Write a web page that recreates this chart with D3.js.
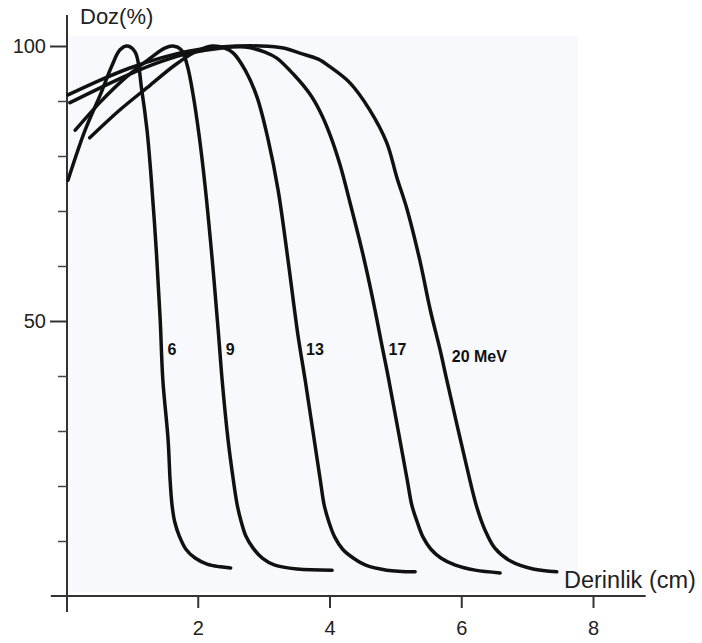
<!DOCTYPE html>
<html>
<head>
<meta charset="utf-8">
<script src="https://cdn.jsdelivr.net/npm/d3@7/dist/d3.min.js"></script>
<style>
body{margin:0;background:#fff;}
text{font-family:"Liberation Sans",Arial,sans-serif;}
</style>
</head>
<body>
<script>
//Curve labels (beam energy)
var energies = ['6', '9', '13', '17', '20 MeV'];
//Depth (cm) and dose (%)
var depth6 = [0.03,0.29,0.52,0.70,0.82,0.93,1.05,1.15,1.23,1.29,1.37,1.43,1.47,1.55,1.58,1.61,1.65,1.72,1.82,1.96,2.14,2.34,2.50];
var dose6  = [75.6,84.7,91.1,96.5,99.3,100,98.9,92.0,84.7,76.5,62.9,50.2,39.3,28.4,21.1,16.5,13.5,10.9,8.5,6.9,5.8,5.3,5.1];
var depth9 = [0.14,0.52,0.90,1.28,1.50,1.62,1.75,1.84,1.93,2.02,2.11,2.22,2.31,2.37,2.46,2.54,2.60,2.66,2.73,2.84,2.98,3.17,3.51,4.04];
var dose9  = [84.7,89.8,94.2,97.8,99.6,100,99.3,96.5,91.1,83.8,74.7,61.1,48.4,39.3,28.4,21.1,16.5,13.5,10.9,8.7,6.9,5.6,4.9,4.7];
var depth13 = [0.36,0.82,1.28,1.65,1.96,2.22,2.41,2.54,2.72,2.90,3.07,3.22,3.37,3.52,3.63,3.86,3.92,3.99,4.08,4.20,4.36,4.55,4.87,5.30];
var dose13  = [83.3,88.4,92.9,96.5,98.9,100,99.6,98.7,95.6,90.7,82.9,73.8,61.1,47.5,39.3,21.1,16.5,13.5,10.7,8.5,6.9,5.6,4.7,4.4];
var depth17 = [0.06,0.52,0.97,1.43,1.88,2.34,2.72,3.02,3.20,3.45,3.70,3.86,4.01,4.16,4.31,4.51,4.66,4.81,4.90,5.18,5.25,5.33,5.42,5.54,5.69,5.91,6.21,6.59];
var dose17  = [89.7,92.4,94.9,97.1,98.7,99.6,99.8,98.9,97.8,94.9,91.3,88.0,83.8,78.4,71.6,62.0,53.8,44.7,39.3,21.1,16.5,13.5,10.7,8.5,6.9,5.6,4.7,4.2];
var depth20 = [0.03,0.52,0.97,1.43,1.88,2.34,2.95,3.32,3.55,3.83,4.01,4.31,4.61,4.87,5.02,5.18,5.37,5.53,5.68,5.78,6.13,6.24,6.36,6.51,6.74,7.09,7.45];
var dose20  = [91.1,93.8,96.0,97.8,99.1,99.8,100,99.6,98.7,97.6,96.2,93.3,88.4,82.4,76.2,70.2,61.1,52.0,44.7,39.3,21.1,16.0,12.0,8.7,6.4,4.9,4.4];
//Axis ticks
var xTicks = [2, 4, 6, 8];
var yMajorTicks = [50, 100];
var yMinorTicks = [10, 20, 30, 40, 60, 70, 80, 90];

function setChart(){
    var width = 702,
        height = 643;
    var svg = d3.select('body')
        .append('svg')
        .attr('width', width)
        .attr('height', height);

    var x = d3.scaleLinear().domain([0, 8]).range([66, 593]);
    var y = d3.scaleLinear().domain([0, 100]).range([596, 46]);

    //faint scanned paper area
    svg.append('rect')
        .attr('x', 68).attr('y', 36)
        .attr('width', 510).attr('height', 556)
        .attr('fill', '#f8f9fc');

    //x axis
    svg.append('line')
        .attr('x1', x(-0.23)).attr('x2', x(8.8))
        .attr('y1', y(0)).attr('y2', y(0))
        .attr('stroke', '#333').attr('stroke-width', 2);
    var xAxis = svg.append('g')
        .attr('transform', 'translate(0,' + y(0) + ')')
        .call(d3.axisBottom(x).tickValues(xTicks).tickSize(12).tickPadding(13));
    xAxis.select('.domain').remove();
    xAxis.selectAll('line').attr('stroke', '#333').attr('stroke-width', 2);
    xAxis.selectAll('text').attr('font-size', 20).attr('fill', '#222')
        .style('font-family', '"Liberation Sans",Arial,sans-serif');

    //y axis
    svg.append('line')
        .attr('x1', x(0) + 1).attr('x2', x(0) + 1)
        .attr('y1', 15).attr('y2', 612)
        .attr('stroke', '#333').attr('stroke-width', 2);
    var yAxis = svg.append('g')
        .attr('transform', 'translate(' + (x(0) + 1) + ',0)')
        .call(d3.axisLeft(y).tickValues(yMajorTicks).tickSize(17).tickPadding(4));
    yAxis.select('.domain').remove();
    yAxis.selectAll('line').attr('stroke', '#333').attr('stroke-width', 2);
    yAxis.selectAll('text').attr('font-size', 20).attr('fill', '#222')
        .style('font-family', '"Liberation Sans",Arial,sans-serif');
    var yMinor = svg.append('g')
        .attr('transform', 'translate(' + (x(0) + 1) + ',0)')
        .call(d3.axisLeft(y).tickValues(yMinorTicks).tickSize(9).tickFormat(''));
    yMinor.select('.domain').remove();
    yMinor.selectAll('line').attr('stroke', '#444').attr('stroke-width', 1.5);

    //axis titles
    svg.append('text')
        .attr('x', 80).attr('y', 24)
        .attr('font-size', 22).attr('fill', '#222')
        .text('Doz(%)');
    svg.append('text')
        .attr('x', 564).attr('y', 588)
        .attr('font-size', 23.5).attr('fill', '#222')
        .text('Derinlik (cm)');

    //curves
    var series = [
        {label: energies[0], depth: depth6, dose: dose6},
        {label: energies[1], depth: depth9, dose: dose9},
        {label: energies[2], depth: depth13, dose: dose13},
        {label: energies[3], depth: depth17, dose: dose17},
        {label: energies[4], depth: depth20, dose: dose20}
    ];
    var line = d3.line()
        .x(function(d){ return x(d[0]); })
        .y(function(d){ return y(d[1]); })
        .curve(d3.curveCatmullRom.alpha(0.5));
    svg.selectAll('.curve')
        .data(series)
        .enter()
        .append('path')
        .attr('class', 'curve')
        .attr('d', function(s){ return line(d3.zip(s.depth, s.dose)); })
        .attr('fill', 'none')
        .attr('stroke', '#111')
        .attr('stroke-width', 3.5)
        .attr('stroke-linecap', 'round')
        .attr('stroke-linejoin', 'round');

    //depth where the falling edge crosses a given dose
    function depthAt(s, level){
        var peak = s.dose.indexOf(100);
        for (var j = peak; j < s.dose.length - 1; j++){
            if (s.dose[j] >= level && s.dose[j + 1] < level){
                var t = (s.dose[j] - level) / (s.dose[j] - s.dose[j + 1]);
                return s.depth[j] + t * (s.depth[j + 1] - s.depth[j]);
            }
        }
        return s.depth[peak];
    }

    //labels placed just right of the falling edge at ~45 %
    svg.selectAll('.lab')
        .data(series)
        .enter()
        .append('text')
        .attr('class', 'lab')
        .attr('x', function(s, i){
            return x(depthAt(s, 45)) + (i == 4 ? 12 : 6);
        })
        .attr('y', function(s, i){ return i == 4 ? 362 : 355; })
        .attr('font-size', 16)
        .attr('font-weight', 'bold')
        .attr('fill', '#111')
        .text(function(s){ return s.label; });
};

window.onload = setChart();
</script>
</body>
</html>
